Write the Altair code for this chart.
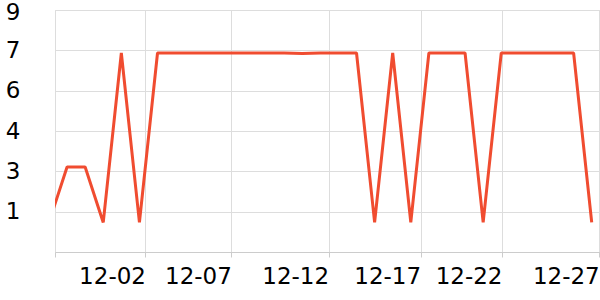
import altair as alt
import pandas as pd

# Daily series (11-27 .. 12-27)
dates = pd.date_range("2023-11-27", periods=31, freq="D")
values = [1.1, 3.16, 3.16, 1.1, 7.4, 1.1, 7.4, 7.4, 7.4, 7.4,
          7.4, 7.4, 7.4, 7.4, 7.38, 7.4, 7.4, 7.4, 1.1, 7.4,
          1.1, 7.4, 7.4, 7.4, 1.1, 7.4, 7.4, 7.4, 7.4, 7.4,
          1.1]

# x-axis domain and tick positions (tick labels are the dates shown)
x_domain = ["2023-11-27 08:00", "2023-12-27 11:00"]
x_ticks = ["2023-11-27 08:00", "2023-12-02 08:00", "2023-12-07 02:00",
           "2023-12-12 11:00", "2023-12-17 13:00", "2023-12-22 01:00",
           "2023-12-27 10:00"]
y_ticks = [1.5, 3, 4.5, 6, 7.5, 9]


def ms(s):
    return int(pd.Timestamp(s, tz="UTC").value // 10**6)


df = pd.DataFrame({
    "t": [int(pd.Timestamp(d, tz="UTC").value // 10**6) for d in dates],
    "v": values,
})

start_ms = ms(x_domain[0])
font = "DejaVu Sans"

chart = alt.Chart(df).mark_line(
    color="#f04c30", strokeWidth=3, strokeJoin="bevel", clip=True
).encode(
    x=alt.X("t:T",
            scale=alt.Scale(type="utc", domain=[ms(x_domain[0]), ms(x_domain[1])]),
            axis=alt.Axis(values=[ms(s) for s in x_ticks],
                          labelExpr=f"datum.value <= {start_ms} ? '' : utcFormat(datum.value, '%m-%d')",
                          labelAlign="right", labelBaseline="top",
                          labelFont=font, labelFontSize=23, labelColor="#000",
                          labelPadding=8, tickSize=5, tickColor="#ccc",
                          domainColor="#ccc", gridColor="#ddd", grid=True,
                          labelOverlap=False, title=None)),
    y=alt.Y("v:Q",
            scale=alt.Scale(domain=[0, 9], nice=False, zero=False),
            axis=alt.Axis(values=y_ticks, labelExpr="floor(datum.value)",
                          labelFont=font, labelFontSize=23, labelColor="#000",
                          labelOffset={"condition": {"test": "datum.value >= 9", "value": 2}, "value": 0},
                          labelPadding=35, ticks=False, tickSize=0,
                          domain=False, gridColor="#ddd", grid=True,
                          labelOverlap=False, title=None)),
).properties(
    width=545, height=242,
    autosize=alt.AutoSizeParams(type="none"),
    padding={"left": 55, "top": 10, "right": 0, "bottom": 48},
).configure_view(strokeWidth=0).configure(background="white")

chart.save("out.html", embed_options={"renderer": "svg", "actions": False})
